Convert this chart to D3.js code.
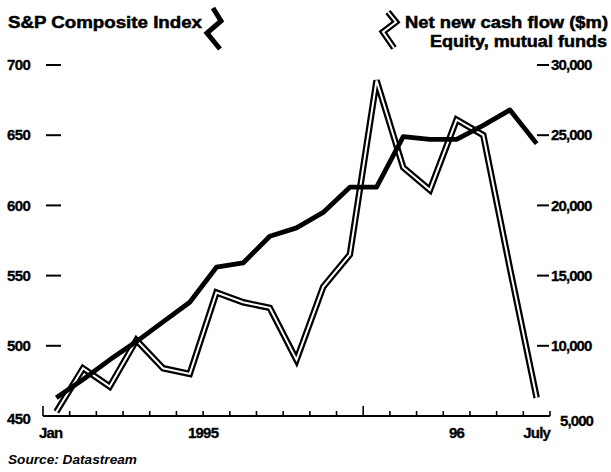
<!DOCTYPE html>
<html>
<head>
<meta charset="utf-8">
<script src="https://cdn.jsdelivr.net/npm/d3@7"></script>
<style>
  html, body { margin: 0; padding: 0; background: #fff; }
  svg { display: block; }
  text { font-family: "Liberation Sans", Arial, Helvetica, sans-serif; fill: #000; }
</style>
</head>
<body>
<svg id="chart" width="611" height="472"></svg>
<script>
// Monthly observations, Jan 1995 – Jul 1996
const months = ["Jan 95","Feb 95","Mar 95","Apr 95","May 95","Jun 95","Jul 95","Aug 95","Sep 95","Oct 95","Nov 95","Dec 95",
                "Jan 96","Feb 96","Mar 96","Apr 96","May 96","Jun 96","Jul 96"];
// S&P Composite index level (left axis)
const spIndex = [463, 476, 490, 503, 517, 531, 556, 559, 578, 584, 595, 613, 613, 649, 647, 647, 657, 668, 644];
// Net new cash flow into equity mutual funds, $m (right axis)
const cashFlow = [5300, 8400, 7100, 10400, 8400, 8000, 13800, 13100, 12700, 9000, 14200, 16500, 28900, 22700, 21100, 26100, 25000, 15500, 6300];

const leftTicks = [450, 500, 550, 600, 650, 700];
const rightTicks = [5000, 10000, 15000, 20000, 25000, 30000];
const xLabels = [
  { text: "Jan",  from: "Jan 95", to: "Jan 95", anchor: "start" },
  { text: "1995", from: "Jan 95", to: "Dec 95", anchor: "middle" },
  { text: "96",   from: "Jan 96", to: "Jul 96", anchor: "middle" },
  { text: "July", from: "Jul 96", to: "Jul 96", anchor: "middle" }
];

const svg = d3.select("#chart");
const fmt = d3.format(",");

// Scales: one band per month, tick marks on the band boundaries
const allMonths = [...months, "Aug 96"];
const x = d3.scaleBand().domain(allMonths).range([43, 550 + 507 / 19]).paddingInner(0).paddingOuter(0);
const bw = x.bandwidth();
const xMid = m => x(m) + bw / 2;
const yLeft = d3.scaleLinear().domain([450, 700]).range([416, 65]);
const yRight = d3.scaleLinear().domain([5000, 30000]).range([416, 65]);

// Left axis labels and dashes
const gL = svg.append("g");
leftTicks.forEach(v => {
  const y = yLeft(v);
  gL.append("text").attr("x", 7).attr("y", v === 450 ? y + 3 : y).attr("dy", "0.35em")
    .attr("font-size", 15).attr("font-weight", "bold").attr("letter-spacing", -0.6)
    .attr("stroke", "#000").attr("stroke-width", 0.3)
    .text(v);
  if (v !== 450) {
    gL.append("line").attr("x1", 46).attr("x2", 61).attr("y1", y).attr("y2", y)
      .attr("stroke", "#000").attr("stroke-width", 2);
  }
});

// Right axis labels and dashes
const gR = svg.append("g");
rightTicks.forEach(v => {
  const y = yRight(v);
  gR.append("text").attr("x", v === 5000 ? 560 : 551).attr("y", v === 5000 ? y + 5 : y).attr("dy", "0.35em")
    .attr("font-size", 15).attr("font-weight", "bold").attr("letter-spacing", -0.9)
    .attr("stroke", "#000").attr("stroke-width", 0.3)
    .text(fmt(v));
  if (v !== 5000) {
    gR.append("line").attr("x1", 537).attr("x2", 549).attr("y1", y).attr("y2", y)
      .attr("stroke", "#000").attr("stroke-width", 2);
  }
});

// Horizontal time axis with monthly ticks; year starts get a taller tick
const base = yLeft(450);
svg.append("line").attr("x1", 43).attr("x2", 550).attr("y1", base).attr("y2", base)
  .attr("stroke", "#000").attr("stroke-width", 2);
allMonths.forEach(m => {
  const tall = m.startsWith("Jan");
  svg.append("line").attr("x1", x(m)).attr("x2", x(m))
    .attr("y1", base).attr("y2", base - (tall ? 10 : 5))
    .attr("stroke", "#000").attr("stroke-width", 1.6);
});

xLabels.forEach(l => {
  const px = l.anchor === "start" ? x(l.from) - 4 : (x(l.from) + x(l.to) + bw) / 2;
  svg.append("text").attr("x", px).attr("y", 438).attr("text-anchor", l.anchor)
    .attr("font-size", 15).attr("font-weight", "bold").attr("letter-spacing", -0.8)
    .attr("stroke", "#000").attr("stroke-width", 0.3)
    .text(l.text);
});

// Series lines
const lineSP = d3.line().x((d, i) => xMid(months[i])).y(d => yLeft(d));
const lineCF = d3.line().x((d, i) => xMid(months[i])).y(d => yRight(d));

// Cash flow: hollow double-rule line (black casing, white core)
svg.append("path").attr("d", lineCF(cashFlow)).attr("fill", "none")
  .attr("stroke", "#000").attr("stroke-width", 6.5).attr("stroke-linejoin", "miter");
svg.append("path").attr("d", lineCF(cashFlow)).attr("fill", "none")
  .attr("stroke", "#fff").attr("stroke-width", 2).attr("stroke-linejoin", "miter");

// S&P index: solid heavy line
svg.append("path").attr("d", lineSP(spIndex)).attr("fill", "none")
  .attr("stroke", "#000").attr("stroke-width", 4.8).attr("stroke-linejoin", "round");

// Key: titles with squiggle markers
svg.append("text").attr("x", 8).attr("y", 28).attr("font-size", 16).attr("font-weight", "bold")
  .attr("textLength", 194).attr("lengthAdjust", "spacingAndGlyphs")
  .attr("stroke", "#000").attr("stroke-width", 0.5)
  .text("S&P Composite Index");
svg.append("path").attr("d", "M213,8 L221,21 L207,33 L220,49").attr("fill", "none")
  .attr("stroke", "#000").attr("stroke-width", 5);

const keyCF = "M388,12 L396,22 L383,32 L394,48";
svg.append("path").attr("d", keyCF).attr("fill", "none")
  .attr("stroke", "#000").attr("stroke-width", 6.5);
svg.append("path").attr("d", keyCF).attr("fill", "none")
  .attr("stroke", "#fff").attr("stroke-width", 2);

svg.append("text").attr("x", 405).attr("y", 28).attr("font-size", 16).attr("font-weight", "bold")
  .attr("textLength", 203).attr("lengthAdjust", "spacingAndGlyphs")
  .attr("stroke", "#000").attr("stroke-width", 0.5)
  .text("Net new cash flow ($m)");
svg.append("text").attr("x", 607).attr("y", 47).attr("text-anchor", "end").attr("font-size", 16).attr("font-weight", "bold")
  .attr("textLength", 177).attr("lengthAdjust", "spacingAndGlyphs")
  .attr("stroke", "#000").attr("stroke-width", 0.5)
  .text("Equity, mutual funds");

// Source line
svg.append("text").attr("x", 8).attr("y", 464).attr("font-size", 12).attr("font-weight", "bold")
  .attr("font-style", "italic").attr("textLength", 129).attr("lengthAdjust", "spacingAndGlyphs")
  .text("Source: Datastream");
</script>
</body>
</html>
